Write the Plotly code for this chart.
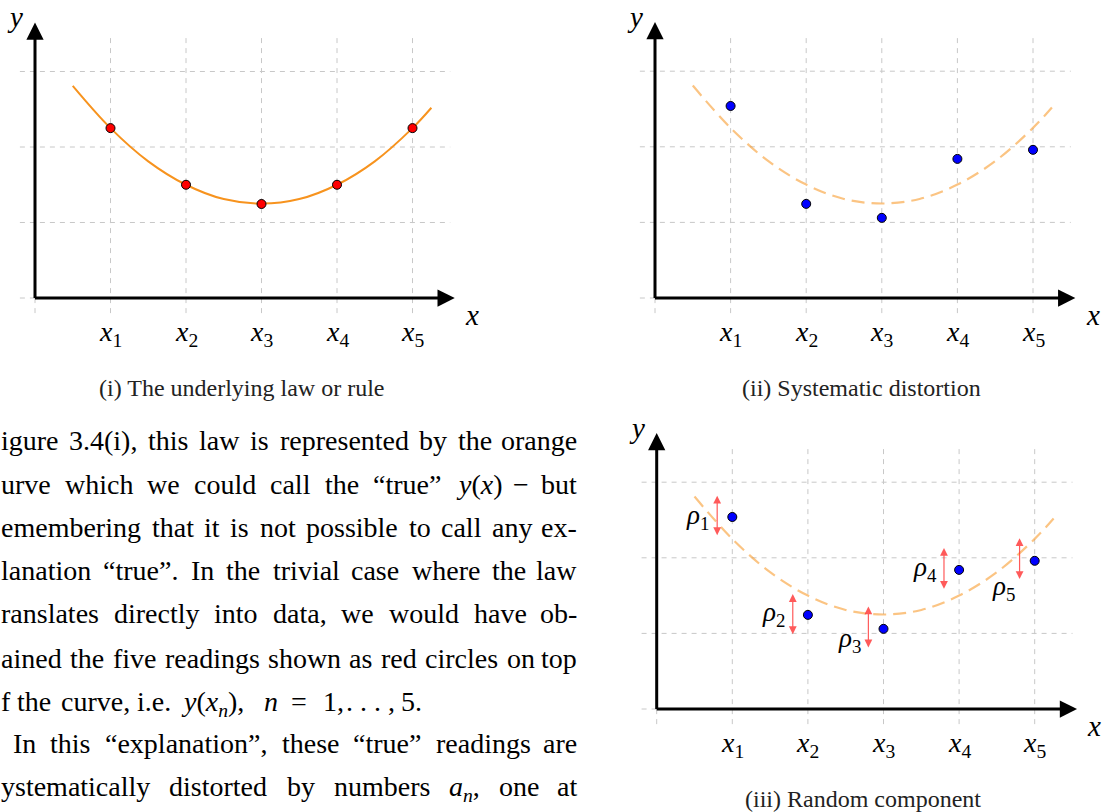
import re
import plotly.graph_objects as go

W, H = 1108, 812

# ---------------- data ----------------
x_points = [1, 2, 3, 4, 5]
x_tick_labels = ["<i>x</i><sub>1</sub>", "<i>x</i><sub>2</sub>", "<i>x</i><sub>3</sub>",
                 "<i>x</i><sub>4</sub>", "<i>x</i><sub>5</sub>"]
true_y = [2.25, 1.5, 1.245, 1.5, 2.25]
curve_x = [0.5, 1, 1.5, 2, 2.5, 3, 3.5, 4, 4.5, 5, 5.25]
curve_y = [2.81, 2.25, 1.81, 1.5, 1.31, 1.25, 1.31, 1.5, 1.81, 2.25, 2.52]
distorted_y = [2.54, 1.245, 1.06, 1.84, 1.96]
rho_x = [0.8, 1.8, 2.8, 3.8, 4.8]
rho_lo = [2.28, 0.97, 0.795, 1.57, 1.70]
rho_hi = [2.82, 1.52, 1.355, 2.13, 2.26]
rho_labels = ["<i>ρ</i><sub>1</sub>", "<i>ρ</i><sub>2</sub>", "<i>ρ</i><sub>3</sub>",
              "<i>ρ</i><sub>4</sub>", "<i>ρ</i><sub>5</sub>"]
rho_label_x = [0.54, 1.54, 2.55, 3.55, 4.59]
rho_label_y = [2.54, 1.26, 0.91, 1.85, 1.60]
grid_x = [0, 1, 2, 3, 4, 5]
grid_y = [0, 1, 2, 3]
captions = ["(i) The underlying law or rule", "(ii) Systematic distortion",
            "(iii) Random component"]

# body text lines (each line is justified between its left start and the right margin)
body_text = [
    "igure 3.4(i), this law is represented by the orange",
    "urve which we could call the “true” <i>y</i>(<i>x</i>) − but",
    "emembering that it is not possible to call any ex-",
    "lanation “true”. In the trivial case where the law",
    "ranslates directly into data, we would have ob-",
    "ained the five readings shown as red circles on top",
    None,  # last line of paragraph: math pieces, laid out individually below
    "In this “explanation”, these “true” readings are",
    "ystematically distorted by numbers <i>a</i><sub><i>n</i></sub>, one at",
]
last_line_pieces = ["f", "the", "curve,", "i.e.", "<i>y</i>(<i>x</i><sub><i>n</i></sub>),",
                    "<i>n</i>", "=", "1,", ". . . ,", "5."]

# ---------------- layout helpers ----------------
FONT = "Liberation Serif"
XR = [-0.4, 5.9]
YR = [-0.6, 3.9]
panels = [  # origin pixel x, origin pixel y, pixels per unit
    (35.0, 298.0, 75.5),
    (655.0, 298.0, 75.6),
    (656.7, 709.0, 75.6),
]

fig = go.Figure()
layout = dict(width=W, height=H, margin=dict(l=0, r=0, t=0, b=0),
              paper_bgcolor="white", plot_bgcolor="white", showlegend=False)
shapes, annotations = [], []

ORANGE = "#F7931E"
LIGHT_ORANGE = "rgba(247,147,30,0.55)"
GRID = "#c8c8c8"

for i, (ox, oy, u) in enumerate(panels):
    n = "" if i == 0 else str(i + 1)
    xa, ya = "x" + n, "y" + n
    layout["xaxis" + n] = dict(domain=[(ox + XR[0] * u) / W, (ox + XR[1] * u) / W],
                               range=XR, visible=False, anchor=ya, fixedrange=True)
    layout["yaxis" + n] = dict(domain=[1 - (oy - YR[0] * u) / H, 1 - (oy - YR[1] * u) / H],
                               range=YR, visible=False, anchor=xa, fixedrange=True)
    # dashed grid
    for gx in grid_x:
        shapes.append(dict(type="line", xref=xa, yref=ya, x0=gx, x1=gx, y0=-0.2, y1=3.5,
                           line=dict(color=GRID, width=1, dash="5px,5px"), layer="below"))
    for gy in grid_y:
        shapes.append(dict(type="line", xref=xa, yref=ya, x0=-0.2, x1=5.5, y0=gy, y1=gy,
                           line=dict(color=GRID, width=1, dash="5px,5px"), layer="below"))
    # axes with arrow heads
    annotations.append(dict(xref=xa, yref=ya, axref=xa, ayref=ya, x=5.56, y=0, ax=-0.02, ay=0,
                            text="", showarrow=True, arrowhead=2, arrowwidth=3, arrowsize=1.15,
                            arrowcolor="black", standoff=0, startstandoff=0))
    annotations.append(dict(xref=xa, yref=ya, axref=xa, ayref=ya, x=0, y=3.65, ax=0, ay=-0.02,
                            text="", showarrow=True, arrowhead=2, arrowwidth=3, arrowsize=1.15,
                            arrowcolor="black", standoff=0, startstandoff=0))
    annotations.append(dict(xref=xa, yref=ya, x=-0.26, y=3.72, text="<i>y</i>", showarrow=False,
                            font=dict(family=FONT, size=29, color="black")))
    annotations.append(dict(xref=xa, yref=ya, x=5.79, y=-0.22, text="<i>x</i>", showarrow=False,
                            font=dict(family=FONT, size=29, color="black")))
    for xv, lab in zip(x_points, x_tick_labels):
        annotations.append(dict(xref=xa, yref=ya, x=xv, y=-0.47, text=lab, showarrow=False,
                                font=dict(family=FONT, size=28, color="black")))
    # caption
    cap_y = oy + 90
    annotations.append(dict(xref="paper", yref="paper", x=(ox + 2.73 * u) / W, y=1 - cap_y / H,
                            xanchor="center", yanchor="middle",
                            text=captions[i], showarrow=False,
                            font=dict(family=FONT, size=24, color="#222")))

    if i == 0:
        fig.add_trace(go.Scatter(x=curve_x, y=curve_y, mode="lines", xaxis=xa, yaxis=ya,
                                 line=dict(color=ORANGE, width=2, shape="spline"),
                                 hoverinfo="skip"))
        fig.add_trace(go.Scatter(x=x_points, y=true_y, mode="markers", xaxis=xa, yaxis=ya,
                                 marker=dict(color="#FF0000", size=9,
                                             line=dict(color="black", width=1))))
    else:
        fig.add_trace(go.Scatter(x=curve_x, y=curve_y, mode="lines", xaxis=xa, yaxis=ya,
                                 line=dict(color=LIGHT_ORANGE, width=2.2, shape="spline",
                                           dash="13px,7px"),
                                 hoverinfo="skip"))
        fig.add_trace(go.Scatter(x=x_points, y=distorted_y, mode="markers", xaxis=xa, yaxis=ya,
                                 marker=dict(color="#0000FF", size=9,
                                             line=dict(color="black", width=1))))
    if i == 2:
        for rx, lo, hi, lab, lx, ly in zip(rho_x, rho_lo, rho_hi, rho_labels,
                                           rho_label_x, rho_label_y):
            annotations.append(dict(xref=xa, yref=ya, axref=xa, ayref=ya, x=rx, y=hi, ax=rx, ay=lo,
                                    text="", showarrow=True, arrowhead=2, arrowside="end+start",
                                    arrowwidth=1.2, arrowsize=1.3,
                                    arrowcolor="rgba(255,50,50,0.8)", standoff=0, startstandoff=0))
            annotations.append(dict(xref=xa, yref=ya, x=lx, y=ly, text=lab, showarrow=False,
                                    font=dict(family=FONT, size=27, color="black")))

# ---------------- body text: justified word by word ----------------
# Times / Liberation Serif advance widths (per 1000 em)
ROMAN = {" ": 250, "(": 333, ")": 333, ",": 250, "-": 333, ".": 250, "=": 564, "−": 564,
         "“": 444, "”": 444, "0": 500, "1": 500, "2": 500, "3": 500, "4": 500, "5": 500,
         "a": 444, "b": 500, "c": 444, "d": 500, "e": 444, "f": 333, "g": 500, "h": 500,
         "i": 278, "j": 278, "k": 500, "l": 278, "m": 778, "n": 500, "o": 500, "p": 500,
         "q": 500, "r": 333, "s": 389, "t": 278, "u": 500, "v": 500, "w": 722, "x": 500,
         "y": 500, "z": 444, "I": 333, "T": 611, "F": 556}
ITALIC = {"a": 500, "n": 500, "x": 444, "y": 444}


def text_width(s, fs):
    w, ital, sub = 0.0, False, False
    for tok in re.split(r"(<[^>]+>)", s):
        if tok.startswith("<"):
            name = tok.strip("</>").lower()
            closing = tok.startswith("</")
            if name == "i":
                ital = not closing
            elif name == "sub":
                sub = not closing
            continue
        for ch in tok:
            table = ITALIC if (ital and ch in ITALIC) else ROMAN
            w += table.get(ch, 500) / 1000.0 * fs * (0.7 if sub else 1.0)
    return w


BODY_FS = 28
RIGHT = 578
baselines = [449, 493, 536, 579, 622, 667, 710, 752, 795]
line_starts = [0, 0, 0, 0, 0, 0, 0, 12, 0]
last_line_x = [0, 16, 60, 136, 180, 263, 290, 322, 345, 400]


def add_word(px, base, txt, anchor="left"):
    annotations.append(dict(xref="paper", yref="paper", x=px / W,
                            y=1 - (base - 0.891 * BODY_FS) / H,
                            xanchor=anchor, yanchor="top", text=txt, showarrow=False,
                            borderpad=0, font=dict(family=FONT, size=BODY_FS, color="black")))


for li, (line, base, x0) in enumerate(zip(body_text, baselines, line_starts)):
    if line is None:
        for px, piece in zip(last_line_x, last_line_pieces):
            add_word(px, base, piece)
        continue
    words = line.split(" ")
    widths = [text_width(w, BODY_FS) for w in words]
    space = (RIGHT - x0 - sum(widths)) / (len(words) - 1)
    px = x0
    for k, (w, wd) in enumerate(zip(words, widths)):
        if k == len(words) - 1:
            add_word(RIGHT, base, w, anchor="right")
        else:
            add_word(px, base, w)
        px += wd + space

layout["shapes"] = shapes
layout["annotations"] = annotations
fig.update_layout(**layout)
fig.write_html("out.html")
